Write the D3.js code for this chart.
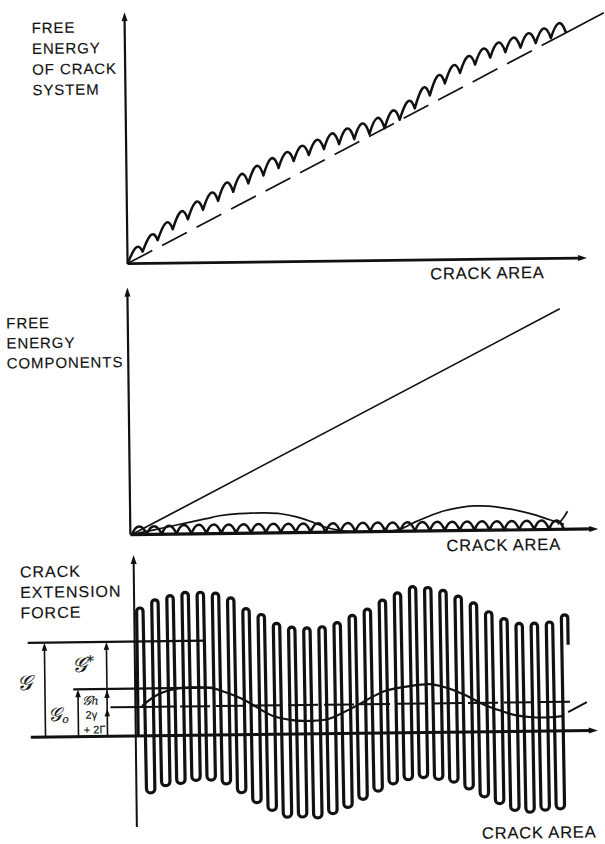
<!DOCTYPE html>
<html>
<head>
<meta charset="utf-8">
<script src="https://cdn.jsdelivr.net/npm/d3@7"></script>
<style>
  body { margin: 0; background: #fff; }
  svg text { font-family: "Liberation Sans", Arial, sans-serif; fill: #111; stroke: #111; stroke-width: 0.15px; }
</style>
</head>
<body>
<div id="chart"></div>
<script>
// ---- data: energies / forces in arbitrary units, crack area in lattice sites ----

// top panel: free energy of crack system
const surfaceLine = [[0, 0], [29, 225.5]];
const surfaceTail = [[29, 225.5], [31.5, 245]];
const systemHump = [0, 4, 7.5, 10.5, 12.5, 14, 15, 16, 16.5, 16.5, 16, 15, 13, 11, 8, 5, 2, 0,
  0.5, 4, 9, 13, 15.5, 16, 15, 12.5, 9, 5.5, 2.5, 0];
const systemBumps = [9, 10, 11, 12, 12, 12, 13, 13, 13, 13, 12, 12, 12, 13, 13, 13, 13, 13, 12,
  13, 13, 12, 12, 12, 12, 12, 12, 12, 12];

// middle panel: free energy components
const componentLine = [[0, 0], [28.9, 220.5]];
const componentHump = [0, 3, 6, 9, 12, 15, 18, 19.5, 20, 20, 19, 16, 11, 5, 1.5, 0, 0, 0,
  2, 9, 15, 20, 23, 24.5, 24, 22, 19, 15, 10, 5];
const componentHumpNext = [[28.6, 5], [29.0, 12], [29.25, 18]];
const componentBumps = [8, 8, 8.5, 9, 9, 9, 9, 9, 9, 9, 9, 9, 9, 9, 9, 9, 9, 9, 9, 9, 9, 9, 9,
  9, 9, 9, 9, 9, 9];

// bottom panel: crack extension force
const forcePeaks = [128, 136, 140, 143, 143, 142, 137, 126, 120, 111, 107, 106, 107, 111, 118,
  124, 133, 140, 146, 145, 142, 136, 129, 120, 113, 108, 108, 109, 116];
const forceTroughs = [-57, -50, -48, -45, -45, -49, -58, -68, -76, -83, -83, -84, -80, -74, -66,
  -58, -51, -47, -45, -47, -50, -57, -65, -72, -79, -81, -79, -78];
const forceTail = 86;
const g0Curve = [[0.36, 30], [1.4, 41], [2.54, 46.5], [3.66, 48], [4.98, 47], [5.84, 43],
  [6.96, 36], [7.82, 28.5], [8.48, 22.4], [9.0, 18.3], [10.26, 14], [11.44, 13], [12.63, 14.6],
  [14.2, 25.3], [15.53, 36], [16.39, 42], [18.04, 46.6], [19.36, 48.3], [20.35, 45],
  [21.67, 37], [22.99, 26.6], [24.11, 20.4], [24.97, 16.3], [26.09, 14], [27.28, 13.8],
  [28.07, 14.7]];
const g0Next = [[28.46, 18.6], [29.7, 28.4]];
const levelG = 94.5, levelG0 = 47.5, levelGamma = 29;

const topTitle = ["FREE", "ENERGY", "OF CRACK", "SYSTEM"];
const midTitle = ["FREE", "ENERGY", "COMPONENTS"];
const botTitle = ["CRACK", "EXTENSION", "FORCE"];
const xTitle = "CRACK AREA";

// ---- layout ----
const W = 605, H = 844;
const svg = d3.select("#chart").append("svg").attr("width", W).attr("height", H);
// the scanned figure sits slightly tilted
const root = svg.append("g").attr("transform", "rotate(-0.7 302 422)");

function arrowHead(sel, x, y, dir, len, wid) {
  const pts = dir === "up"
    ? [[x, y], [x - wid / 2, y + len], [x + wid / 2, y + len]]
    : [[x, y], [x - len, y - wid / 2], [x - len, y + wid / 2]];
  sel.append("path").attr("d", d3.line()(pts) + "Z").attr("fill", "#111");
}

// chain of bumps sitting on a list of trough points
function arches(xs, ys, pts, heights, squeeze) {
  const p = d3.path();
  pts.forEach((d, i) => {
    const x0 = xs(d[0]), y0 = ys(d[1]);
    if (i === 0) p.moveTo(x0, y0);
    if (i === pts.length - 1) return;
    const x1 = xs(pts[i + 1][0]), y1 = ys(pts[i + 1][1]);
    const w = x1 - x0;
    const k = (ys(0) - ys(heights[i])) / 0.75;
    p.bezierCurveTo(x0 + w * squeeze, y0 - k, x1 - w * squeeze, y1 - k, x1, y1);
  });
  return p.toString();
}

function title(lines, x, y0, step, size, spacing) {
  root.append("text")
    .attr("x", x).attr("y", y0)
    .style("font-size", size + "px")
    .style("letter-spacing", spacing + "px")
    .selectAll("tspan").data(lines).join("tspan")
    .attr("x", x).attr("dy", (d, i) => i === 0 ? 0 : step)
    .text(d => d);
}

function axisTitle(x, y) {
  root.append("text").attr("x", x).attr("y", y).style("font-size", "16.5px")
    .style("letter-spacing", "0.8px").text(xTitle);
}

// ================= top panel =================
{
  const x = d3.scaleLinear().domain([0, 30.2]).range([129.5, 589]);
  const y = d3.scaleLinear().domain([0, 251.5]).range([261.5, 10]);
  const g = root.append("g");
  const line = d3.line().x(d => x(d[0])).y(d => y(d[1]));

  g.append("line").attr("x1", x(0)).attr("x2", x(0)).attr("y1", y(0)).attr("y2", y(251.5) + 6)
    .attr("stroke", "#111").attr("stroke-width", 2.2);
  arrowHead(g, x(0), y(251.5), "up", 9, 6);
  g.append("line").attr("x1", x(0)).attr("x2", x(30.2) - 6).attr("y1", y(0)).attr("y2", y(0))
    .attr("stroke", "#111").attr("stroke-width", 2.8);
  arrowHead(g, x(30.2), y(0), "right", 9, 6);

  g.append("path").attr("d", line(surfaceLine)).attr("fill", "none")
    .attr("stroke", "#111").attr("stroke-width", 1.7).attr("stroke-dasharray", "28,11");
  g.append("path").attr("d", line(surfaceTail)).attr("fill", "none")
    .attr("stroke", "#111").attr("stroke-width", 1.7);

  const surf = d3.scaleLinear().domain([surfaceLine[0][0], surfaceLine[1][0]])
    .range([surfaceLine[0][1], surfaceLine[1][1]]);
  const troughs = systemHump.map((h, i) => [i, surf(i) + h]);
  g.append("path").attr("d", arches(x, y, troughs, systemBumps, 0.34))
    .attr("fill", "none").attr("stroke", "#111").attr("stroke-width", 2.5)
    .attr("stroke-linejoin", "round");

  title(topTitle, 36.5, 30, 20.7, 15, 0.9);
  axisTitle(432, 281);
}

// ================= middle panel =================
{
  const x = d3.scaleLinear().domain([0, 31.3]).range([130.5, 596.9]);
  const y = d3.scaleLinear().domain([0, 247]).range([532.5, 285.5]);
  const g = root.append("g");
  const line = d3.line().x(d => x(d[0])).y(d => y(d[1]));

  g.append("line").attr("x1", x(-0.1)).attr("x2", x(-0.1)).attr("y1", y(0)).attr("y2", y(247) + 6)
    .attr("stroke", "#111").attr("stroke-width", 2.2);
  arrowHead(g, x(-0.1), y(247), "up", 9, 6);

  g.append("path").attr("d", line(componentLine)).attr("fill", "none")
    .attr("stroke", "#111").attr("stroke-width", 1.7);

  const hump = componentHump.map((v, i) => [i, v]);
  g.append("path").attr("d", line.curve(d3.curveCatmullRom)(hump)).attr("fill", "none")
    .attr("stroke", "#111").attr("stroke-width", 1.7);
  g.append("path").attr("d", line.curve(d3.curveCatmullRom)(componentHumpNext)).attr("fill", "none")
    .attr("stroke", "#111").attr("stroke-width", 1.7);

  const troughs = componentBumps.map((h, i) => [i, 0]).concat([[componentBumps.length, 0]]);
  g.append("path").attr("d", arches(x, y, troughs, componentBumps, 0.3))
    .attr("fill", "none").attr("stroke", "#111").attr("stroke-width", 2.5)
    .attr("stroke-linejoin", "round");

  g.append("line").attr("x1", x(-0.1)).attr("x2", x(31.3) - 6).attr("y1", y(0)).attr("y2", y(0))
    .attr("stroke", "#111").attr("stroke-width", 3.2);
  arrowHead(g, x(31.3), y(0), "right", 9, 6);

  title(midTitle, 7.5, 325, 20, 15, 0.9);
  axisTitle(445, 553);
}

// ================= bottom panel =================
{
  const x = d3.scaleLinear().domain([0, 30.4]).range([133, 594]);
  const y = d3.scaleLinear().domain([-91, 181]).range([825, 553]);
  const g = root.append("g");
  const line = d3.line().x(d => x(d[0])).y(d => y(d[1]));

  // annotation columns (px)
  const leftEdge = 25, colG = 41.7, colG0 = 74.7, colStar = 103.7;

  g.append("line").attr("x1", x(-0.07)).attr("x2", x(-0.07)).attr("y1", y(-91)).attr("y2", y(181) + 6)
    .attr("stroke", "#111").attr("stroke-width", 2);
  arrowHead(g, x(-0.07), y(181), "up", 9, 6);

  // level lines
  g.append("line").attr("x1", leftEdge).attr("x2", x(4.6)).attr("y1", y(levelG)).attr("y2", y(levelG))
    .attr("stroke", "#111").attr("stroke-width", 2.2);
  g.append("line").attr("x1", 70).attr("x2", x(5.0)).attr("y1", y(levelG0)).attr("y2", y(levelG0))
    .attr("stroke", "#111").attr("stroke-width", 2.2);
  g.append("line").attr("x1", 107).attr("x2", x(0.5)).attr("y1", y(levelGamma)).attr("y2", y(levelGamma))
    .attr("stroke", "#111").attr("stroke-width", 2);
  g.append("line").attr("x1", x(0.5)).attr("x2", x(28.9)).attr("y1", y(levelGamma)).attr("y2", y(levelGamma))
    .attr("stroke", "#111").attr("stroke-width", 2).attr("stroke-dasharray", "30,6");

  // G0 curve
  g.append("path").attr("d", line.curve(d3.curveCatmullRom)(g0Curve)).attr("fill", "none")
    .attr("stroke", "#111").attr("stroke-width", 2.1);
  g.append("path").attr("d", line.curve(d3.curveLinear)(g0Next)).attr("fill", "none")
    .attr("stroke", "#111").attr("stroke-width", 2.1);

  // oscillating force loops
  const rT = 3.2, rB = 4.2;
  const p = d3.path();
  p.moveTo(x(0.3) - rT, y(0));
  forcePeaks.forEach((v, k) => {
    const xt = x(k + 0.3), yt = y(v);
    p.lineTo(xt - rT, yt + rT);
    p.bezierCurveTo(xt - rT, yt - rT / 3, xt + rT, yt - rT / 3, xt + rT, yt + rT);
    if (k < forceTroughs.length) {
      const xb = x(k + 0.87), yb = y(forceTroughs[k]);
      p.lineTo(xb - rB, yb - rB);
      p.bezierCurveTo(xb - rB, yb + rB / 3, xb + rB, yb + rB / 3, xb + rB, yb - rB);
    } else {
      p.lineTo(xt + rT, y(forceTail));
    }
  });
  g.append("path").attr("d", p.toString()).attr("fill", "none")
    .attr("stroke", "#111").attr("stroke-width", 3.2).attr("stroke-linejoin", "round");

  // crack area axis
  g.append("line").attr("x1", leftEdge + 2).attr("x2", x(30.4) - 6).attr("y1", y(0)).attr("y2", y(0))
    .attr("stroke", "#111").attr("stroke-width", 3);
  arrowHead(g, x(30.4), y(0), "right", 9, 6);

  // dimension arrows
  const vArrow = (cx, top) => {
    g.append("line").attr("x1", cx).attr("x2", cx).attr("y1", y(0)).attr("y2", y(top) + 5)
      .attr("stroke", "#111").attr("stroke-width", 1.6);
    arrowHead(g, cx, y(top), "up", 8, 5.5);
  };
  vArrow(colG, levelG);
  vArrow(colG0, levelG0);
  vArrow(colStar, levelG);
  arrowHead(g, colStar, y(levelG0) + 1, "up", 8, 5.5);
  arrowHead(g, colStar, y(levelGamma) + 1, "up", 8, 5.5);

  const sym = (txt, tx, ty, size) => g.append("text").attr("x", tx).attr("y", ty)
    .attr("text-anchor", "middle")
    .style("font-family", "'DejaVu Serif', serif").style("font-style", "italic")
    .style("font-size", size + "px").text(txt);
  sym("𝒢", 21, 686, 21);
  const gs = sym("𝒢", 80, 669, 21);
  gs.append("tspan").style("font-style", "normal").style("font-size", "14px").attr("dy", -6).text("*");
  const g0 = sym("𝒢", 55, 718, 19);
  g0.append("tspan").style("font-size", "11px").attr("dy", 2).text("o");
  const gh = sym("𝒢", 87, 702, 13);
  gh.append("tspan").style("font-size", "11px").text("h");
  g.append("text").attr("x", 82).attr("y", 716).style("font-size", "11px").text("2γ");
  g.append("text").attr("x", 80).attr("y", 731).style("font-size", "11px").text("+ 2Γ");

  title(botTitle, 18, 574, 20.5, 16, 1);
  axisTitle(477, 841);
}
</script>
</body>
</html>
